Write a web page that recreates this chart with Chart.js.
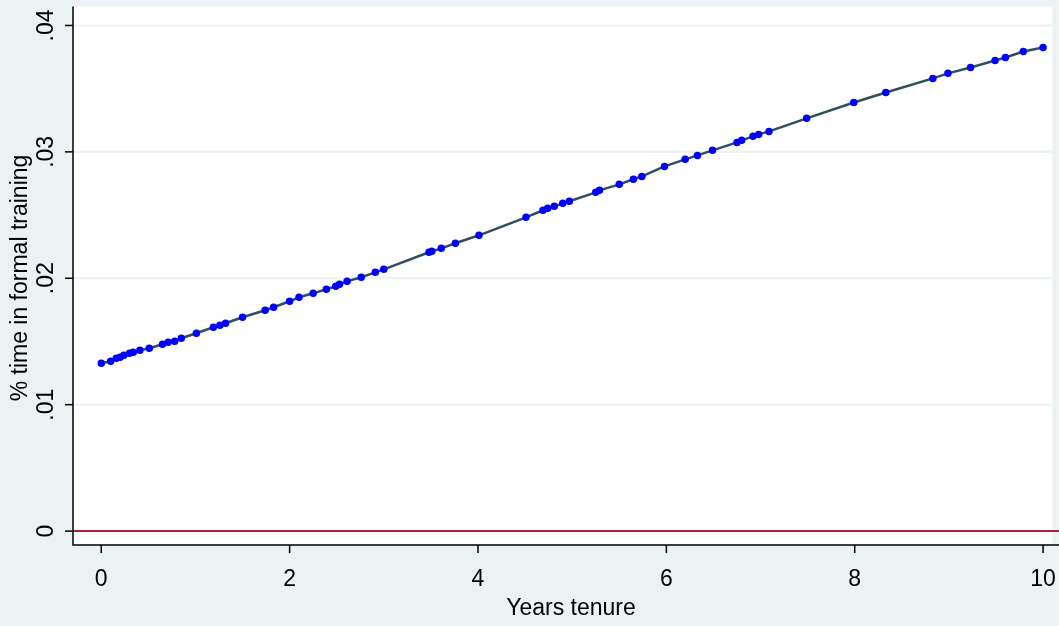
<!DOCTYPE html>
<html>
<head>
<meta charset="utf-8">
<script src="https://cdn.jsdelivr.net/npm/chart.js@4"></script>
<style>
  html, body { margin: 0; padding: 0; background: #eaf2f3; }
  #wrap { width: 1059px; height: 626px; }
</style>
</head>
<body>
<div id="wrap"><canvas id="chartTrain"></canvas></div>
<script>
var tenure = [0, 0.10, 0.16, 0.20, 0.24, 0.30, 0.34, 0.41, 0.51, 0.65, 0.71, 0.78, 0.85, 1.01, 1.19, 1.26, 1.32,
  1.50, 1.74, 1.83, 2.00, 2.10, 2.25, 2.39, 2.49, 2.53, 2.61, 2.76, 2.91, 3.00, 3.48, 3.51, 3.61, 3.76, 4.01,
  4.51, 4.69, 4.74, 4.81, 4.90, 4.97, 5.25, 5.29, 5.50, 5.65, 5.74, 5.98, 6.20, 6.33, 6.49, 6.75, 6.80, 6.92,
  6.98, 7.09, 7.49, 7.99, 8.33, 8.83, 8.99, 9.23, 9.49, 9.60, 9.79, 10];
var share = [.01328, .01344, .01368, .01375, .01391, .01407, .01415, .01431, .01447, .01478, .01494, .01502,
  .01526, .01565, .01613, .01628, .01644, .01692, .01747, .01771, .01818, .01850, .01881, .01913, .01937, .01953,
  .01976, .02008, .02047, .02071, .02206, .02213, .02237, .02277, .02340, .02482, .02538, .02553, .02569, .02593,
  .02609, .02680, .02696, .02743, .02783, .02806, .02885, .02941, .02972, .03012, .03075, .03091, .03123, .03138,
  .03162, .03265, .03391, .03470, .03581, .03621, .03668, .03723, .03747, .03794, .03826];
var xTicks = [0, 2, 4, 6, 8, 10];
var yTicks = [0, .01, .02, .03, .04];
var yTickLabels = ['0', '.01', '.02', '.03', '.04'];

var stataAxes = {
  id: 'stataAxes',
  beforeDatasetsDraw: function (chart) {
    var c = chart.ctx, a = chart.chartArea, y = chart.scales.y;
    c.save();
    c.fillStyle = '#ffffff';
    c.fillRect(a.left, a.top, a.right - a.left, a.bottom - a.top);
    c.strokeStyle = '#eaf2f3';
    c.lineWidth = 2;
    yTicks.forEach(function (v) {
      if (v === 0) return;
      var py = y.getPixelForValue(v);
      c.beginPath(); c.moveTo(a.left, py); c.lineTo(a.right, py); c.stroke();
    });
    // zero line
    c.strokeStyle = '#b0203a';
    var p0 = y.getPixelForValue(0);
    c.beginPath(); c.moveTo(a.left, p0); c.lineTo(1059, p0); c.stroke();
    c.restore();
  },
  afterDraw: function (chart) {
    var c = chart.ctx, a = chart.chartArea, x = chart.scales.x, y = chart.scales.y;
    c.save();
    c.strokeStyle = '#000';
    c.lineWidth = 1.5;
    c.beginPath();
    c.moveTo(a.left, a.top); c.lineTo(a.left, a.bottom); c.lineTo(1059, a.bottom);
    c.stroke();
    c.fillStyle = '#000';
    c.font = '23px Arial, "Liberation Sans"';
    c.textAlign = 'center';
    c.textBaseline = 'middle';
    xTicks.forEach(function (v) {
      var px = x.getPixelForValue(v);
      c.beginPath(); c.moveTo(px, a.bottom); c.lineTo(px, a.bottom + 8); c.stroke();
      c.fillText(String(v), px, a.bottom + 35);
    });
    c.fillText('Years tenure', 571, 609);
    yTicks.forEach(function (v, i) {
      var py = y.getPixelForValue(v);
      c.beginPath(); c.moveTo(a.left, py); c.lineTo(a.left - 8, py); c.stroke();
      c.save();
      c.translate(47, py);
      c.rotate(-Math.PI / 2);
      c.fillText(yTickLabels[i], 0, 0);
      c.restore();
    });
    c.save();
    c.translate(21, 278);
    c.rotate(-Math.PI / 2);
    c.fillText('% time in formal training', 0, 0);
    c.restore();
    c.restore();
  }
};

new Chart(document.getElementById('chartTrain'), {
  type: 'scatter',
  data: {
    datasets: [
      {
        label: 'Fitted',
        data: tenure.map((t, i) => ({ x: t, y: share[i] })),
        showLine: true,
        borderColor: '#2f4f5f',
        borderWidth: 2.5,
        pointBackgroundColor: '#0000ff',
        pointBorderColor: '#0000ff',
        pointRadius: 2.5,
        tension: 0
      }
    ]
  },
  options: {
    responsive: true,
    maintainAspectRatio: false,
    animation: false,
    layout: { padding: { left: 73, right: 0, top: 6, bottom: 81 } },
    scales: {
      x: { type: 'linear', min: -0.30, max: 10.10, display: false },
      y: { type: 'linear', min: -0.0011, max: 0.0415, display: false }
    },
    plugins: { legend: { display: false }, tooltip: { enabled: false } }
  },
  plugins: [stataAxes]
});
</script>
</body>
</html>
